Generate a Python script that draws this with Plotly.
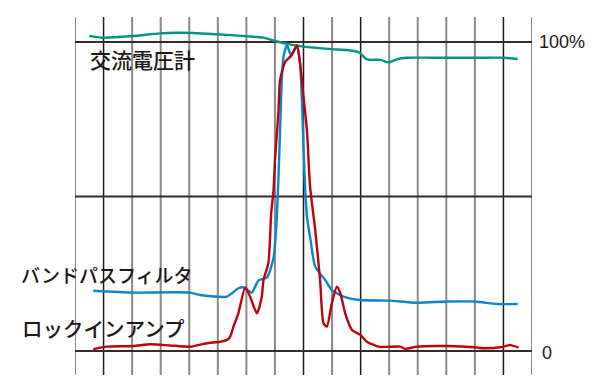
import plotly.graph_objects as go

# ---- data (x in grid units 0..16, y in % of full scale) ----
ac_x = [0.50, 0.99, 1.99, 2.98, 3.56, 4.15, 4.96, 5.98, 6.60, 6.98, 7.42, 8.00, 8.99, 9.52, 9.93,
        10.22, 10.69, 10.98, 11.27, 11.62, 12.54, 14.00, 15.01, 15.50]
ac_y = [102.0, 101.4, 101.9, 102.8, 103.0, 102.9, 102.5, 101.9, 101.4, 100.4, 99.4, 98.5, 97.7, 97.4, 96.7,
        94.4, 94.2, 93.4, 94.4, 94.9, 94.9, 94.9, 94.9, 94.5]

bp_x = [0.64, 2.04, 4.03, 4.38, 5.32, 5.72, 5.90, 6.19, 6.42, 6.72, 6.95, 7.04, 7.12, 7.18, 7.24, 7.30,
        7.42, 7.56, 7.77, 7.88, 7.94, 8.00, 8.06, 8.12, 8.23, 8.41, 8.76, 8.99, 9.40, 9.99, 11.00, 11.97,
        13.02, 14.00, 14.78, 15.50]
bp_y = [19.5, 18.9, 18.9, 18.1, 17.6, 20.3, 20.6, 18.9, 22.8, 23.8, 30.1, 39.2, 55.3, 71.5, 87.7, 95.2,
        99.0, 95.8, 98.5, 93.1, 82.3, 66.1, 52.1, 43.5, 37.0, 27.3, 23.0, 19.7, 17.6, 16.5, 16.3, 15.6,
        16.0, 16.0, 15.2, 15.2]

li_x = [0.64, 1.11, 2.04, 2.63, 3.33, 4.03, 4.61, 5.08, 5.32, 5.43, 5.55, 5.72, 5.96, 6.13, 6.37, 6.54,
        6.60, 6.77, 6.87, 6.95, 7.01, 7.12, 7.18, 7.36, 7.59, 7.77, 7.88, 8.00, 8.12, 8.23, 8.41, 8.58,
        8.70, 8.82, 8.99, 9.17, 9.29, 9.46, 9.70, 9.99, 10.22, 10.63, 11.39, 11.56, 11.97, 13.02, 14.00,
        14.31, 14.89, 15.24, 15.53]
li_y = [0.55, 1.4, 1.6, 2.2, 1.8, 1.4, 2.5, 3.0, 3.6, 4.6, 7.9, 12.2, 20.6, 17.6, 12.2, 17.6,
        23.0, 28.4, 44.6, 52.1, 62.9, 76.9, 87.7, 93.6, 95.8, 99.0, 93.1, 82.3, 71.5, 53.2, 39.2, 23.0,
        9.0, 7.9, 15.4, 20.8, 18.7, 12.2, 6.8, 5.2, 3.0, 1.4, 1.4, 0.7, 1.4, 1.6, 1.2,
        0.9, 1.2, 1.9, 1.1]

grid_x = list(range(17))
dark_grid = [1, 8, 10, 15]
h_grid = [0, 50, 100]

series_names = ["交流電圧計", "バンドパスフィルタ", "ロックインアンプ"]
y_labels = ["100%", "0"]

fig = go.Figure()
fig.add_trace(go.Scatter(x=ac_x, y=ac_y, mode="lines", line=dict(color="#009582", width=2.4, shape="spline", smoothing=0.8),
                         name=series_names[0], hoverinfo="skip"))
fig.add_trace(go.Scatter(x=bp_x, y=bp_y, mode="lines", line=dict(color="#0a86c9", width=2.4, shape="spline", smoothing=0.6),
                         name=series_names[1], hoverinfo="skip"))
fig.add_trace(go.Scatter(x=li_x, y=li_y, mode="lines", line=dict(color="#c0000d", width=2.4, shape="spline", smoothing=0.6),
                         name=series_names[2], hoverinfo="skip"))

shapes = []
for gx in grid_x:
    dark = gx in dark_grid
    shapes.append(dict(type="line", xref="x", yref="paper", x0=gx, x1=gx, y0=0, y1=1,
                       line=dict(color="#231815" if dark else "#8d8787", width=1.5 if dark else 2),
                       layer="below"))
for hy in h_grid:
    shapes.append(dict(type="line", xref="paper", yref="y", x0=0, x1=1, y0=hy, y1=hy,
                       line=dict(color="#352b29", width=2), layer="below"))

txt_font = dict(family="Noto Sans CJK JP", size=20, color="#231815", weight=500)
num_font = dict(family="Liberation Sans, Arial", size=18, color="#231815")
annotations = [
    dict(text=series_names[0], xref="paper", yref="paper", x=0.028, y=0.884, xanchor="left", yanchor="middle",
         showarrow=False, font=dict(txt_font, size=21)),
    dict(text=series_names[1], xref="paper", yref="paper", x=-0.122, y=0.282, xanchor="left", yanchor="middle",
         showarrow=False, font=dict(txt_font, size=19)),
    dict(text=series_names[2], xref="paper", yref="paper", x=-0.120, y=0.131, xanchor="left", yanchor="middle",
         showarrow=False, font=dict(txt_font, size=20.5)),
    dict(text=y_labels[0], xref="paper", yref="y", x=1.012, y=100, xanchor="left", yanchor="middle",
         showarrow=False, font=num_font),
    dict(text=y_labels[1], xref="paper", yref="y", x=1.017, y=-0.5, xanchor="left", yanchor="middle",
         showarrow=False, font=num_font),
]

fig.update_layout(
    width=600, height=389,
    margin=dict(l=75, r=68.3, t=17, b=14),
    paper_bgcolor="white", plot_bgcolor="white",
    showlegend=False,
    shapes=shapes, annotations=annotations,
    xaxis=dict(range=[0, 16], showgrid=False, zeroline=False, showticklabels=False, ticks="", showline=False),
    yaxis=dict(range=[-7.77, 108.09], showgrid=False, zeroline=False, showticklabels=False, ticks="", showline=False),
)

fig.write_html("out.html", config={"displayModeBar": False})
